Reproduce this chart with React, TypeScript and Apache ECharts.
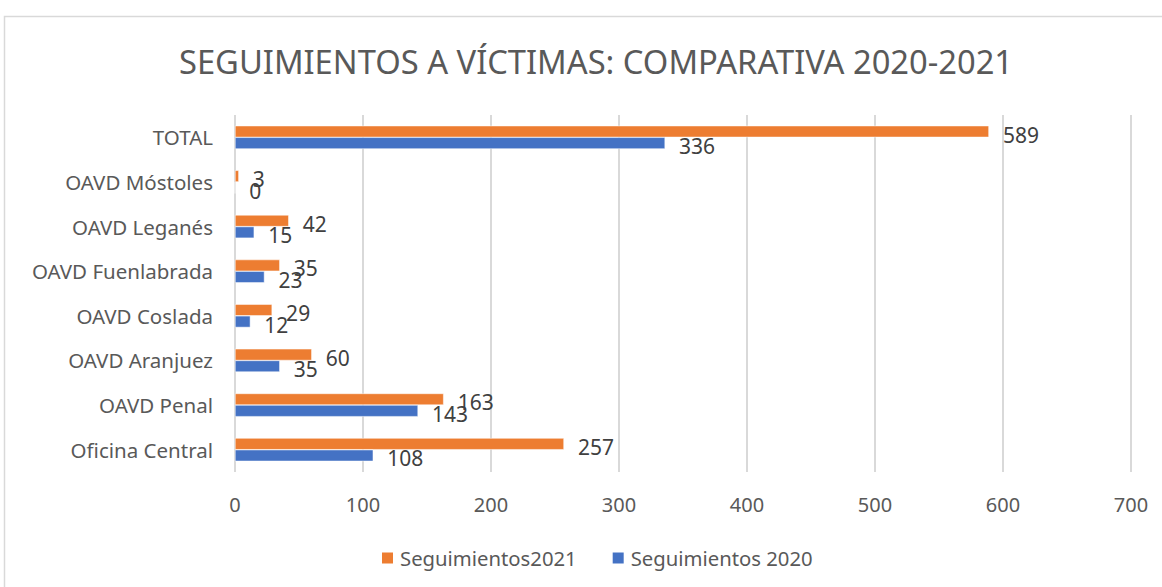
import React, { useEffect, useRef } from "react";
import * as echarts from "echarts";

const categories = [
  "Oficina Central",
  "OAVD Penal",
  "OAVD Aranjuez",
  "OAVD Coslada",
  "OAVD Fuenlabrada",
  "OAVD Leganés",
  "OAVD Móstoles",
  "TOTAL",
];
const seg2021 = [257, 163, 60, 29, 35, 42, 3, 589];
const seg2020 = [108, 143, 35, 12, 23, 15, 0, 336];
const titleText = "SEGUIMIENTOS A VÍCTIMAS: COMPARATIVA 2020-2021";
const name2021 = "Seguimientos2021";
const name2020 = "Seguimientos 2020";

const FONT = "'Noto Sans', sans-serif";

export default function App() {
  const ref = useRef<HTMLDivElement>(null);
  useEffect(() => {
    if (!ref.current) return;
    const chart = echarts.init(ref.current, null, { renderer: "svg" });
    const label = {
      show: true,
      position: "right" as const,
      distance: 14,
      offset: [0, 3],
      color: "#404040",
      fontSize: 21,
      fontFamily: FONT,
    };
    chart.setOption({
      animation: false,
      backgroundColor: "#ffffff",
      title: {
        text: titleText,
        left: 174,
        top: 40,
        textStyle: {
          color: "#595959",
          fontSize: 32.7,
          fontWeight: "normal",
          fontFamily: FONT,
        },
      },
      graphic: [
        {
          type: "rect",
          shape: { x: 4.5, y: 16.5, width: 1170, height: 600 },
          style: { fill: "none", stroke: "#d9d9d9", lineWidth: 1.5 },
          silent: true,
        },
      ],
      legend: {
        data: [name2021, name2020],
        left: 375,
        top: 543,
        icon: "rect",
        itemWidth: 13,
        itemHeight: 13,
        itemGap: 34,
        textStyle: {
          color: "#595959",
          fontSize: 20.3,
          fontFamily: FONT,
          padding: [0, 0, 0, 1],
        },
      },
      grid: { left: 235, right: 31, top: 115, height: 357 },
      xAxis: {
        type: "value",
        min: 0,
        max: 700,
        interval: 100,
        axisLine: { show: false },
        axisTick: { show: false },
        axisLabel: {
          color: "#595959",
          fontSize: 20,
          fontFamily: FONT,
          margin: 22,
        },
        splitLine: { show: true, lineStyle: { color: "#d9d9d9", width: 2 } },
      },
      yAxis: {
        type: "category",
        data: categories,
        axisLine: { show: false },
        axisTick: { show: false },
        axisLabel: {
          color: "#595959",
          fontSize: 20.5,
          fontFamily: FONT,
          margin: 22,
        },
      },
      series: [
        {
          name: name2021,
          type: "bar",
          data: seg2021,
          barGap: "0%",
          barCategoryGap: "48%",
          itemStyle: { color: "#ED7D31", borderColor: "#ffffff", borderWidth: 0.5 },
          label,
        },
        {
          name: name2020,
          type: "bar",
          data: seg2020,
          barGap: "0%",
          barCategoryGap: "48%",
          itemStyle: { color: "#4472C4", borderColor: "#ffffff", borderWidth: 0.5 },
          label,
        },
      ],
    });
    return () => chart.dispose();
  }, []);
  return (
    <div
      ref={ref}
      style={{ position: "absolute", left: 0, top: 0, width: 1162, height: 587 }}
    />
  );
}
